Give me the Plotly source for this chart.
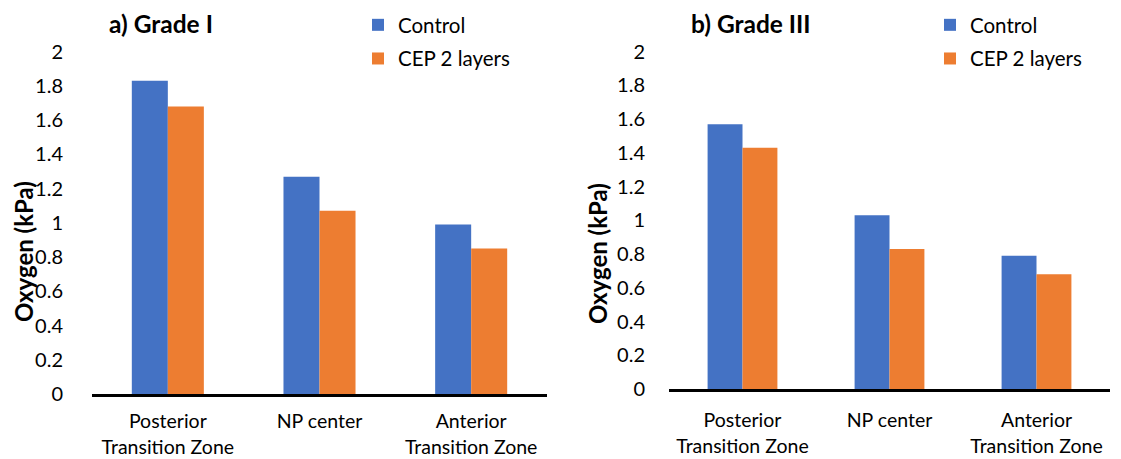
import plotly.graph_objects as go

# Oxygen partial pressure per disc region, two degeneration grades
categories = ["Posterior<br>Transition Zone", "NP center", "Anterior<br>Transition Zone"]
series_names = ["Control", "CEP 2 layers"]

grade1_control = [1.83, 1.27, 0.99]
grade1_cep = [1.68, 1.07, 0.85]

grade3_control = [1.57, 1.03, 0.79]
grade3_cep = [1.43, 0.83, 0.68]

y_ticks = [0, 0.2, 0.4, 0.6, 0.8, 1, 1.2, 1.4, 1.6, 1.8, 2]
y_ticktext = ["0", "0.2", "0.4", "0.6", "0.8", "1", "1.2", "1.4", "1.6", "1.8", "2"]

BLUE = "#4472C4"
ORANGE = "#ED7D31"
FONT = "Lato, 'Open Sans', sans-serif"
W, H = 1121, 459

fig = go.Figure()

panels = [
    ("x", "y", "legend", grade1_control, grade1_cep),
    ("x2", "y2", "legend2", grade3_control, grade3_cep),
]
for xa, ya, leg, ctrl, cep in panels:
    for name, vals, col in zip(series_names, [ctrl, cep], [BLUE, ORANGE]):
        fig.add_trace(go.Bar(
            x=categories, y=vals, name=name, marker_color=col,
            marker_line_width=0, xaxis=xa, yaxis=ya, legend=leg,
            legendgroup=name,
        ))


def px_x(p):
    return p / W


def px_y(p):
    return 1 - p / H


axis_common = dict(showgrid=False, zeroline=False, fixedrange=True, automargin=False)

fig.update_layout(
    width=W, height=H,
    margin=dict(l=0, r=0, t=0, b=0, pad=0, autoexpand=False),
    paper_bgcolor="white", plot_bgcolor="white",
    font=dict(family=FONT, size=20, color="#000000"),
    barmode="group", bargap=0.525, bargroupgap=0,
    xaxis=dict(domain=[px_x(92), px_x(547)], anchor="y", showline=True,
               linecolor="#000000", linewidth=2.5, ticks="",
               ticklabelstandoff=8, tickfont=dict(size=19.5), **axis_common),
    yaxis=dict(domain=[px_y(394), px_y(51.7)], anchor="x", range=[0, 2],
               tickvals=y_ticks, ticktext=y_ticktext, showline=False,
               ticklabelstandoff=28, tickfont=dict(size=20), **axis_common),
    xaxis2=dict(domain=[px_x(669), px_x(1110)], anchor="y2", showline=True,
                linecolor="#000000", linewidth=2.5, ticks="",
                ticklabelstandoff=12, tickfont=dict(size=19.5), **axis_common),
    yaxis2=dict(domain=[px_y(389), px_y(51.7)], anchor="x2", range=[0, 2],
                tickvals=y_ticks, ticktext=y_ticktext, showline=False,
                ticklabelstandoff=23, tickfont=dict(size=20), **axis_common),
    legend=dict(x=px_x(358), y=px_y(5), xanchor="left", yanchor="top",
                xref="container", yref="container",
                font=dict(size=20.5), bgcolor="rgba(0,0,0,0)", tracegroupgap=4),
    legend2=dict(x=px_x(930), y=px_y(5), xanchor="left", yanchor="top",
                 xref="container", yref="container",
                 font=dict(size=20.5), bgcolor="rgba(0,0,0,0)", tracegroupgap=4),
    showlegend=True,
)

# Panel titles
fig.add_annotation(text="<b>a) Grade I</b>", x=px_x(161), y=px_y(23),
                   xref="paper", yref="paper", showarrow=False,
                   font=dict(size=24.5), xanchor="center", yanchor="middle")
fig.add_annotation(text="<b>b) Grade III</b>", x=px_x(751), y=px_y(23),
                   xref="paper", yref="paper", showarrow=False,
                   font=dict(size=24.5), xanchor="center", yanchor="middle")

# Y axis titles
for cx, cy in [(23, 252), (597, 254)]:
    fig.add_annotation(text="<b>Oxygen (kPa)</b>", x=px_x(cx), y=px_y(cy),
                       xref="paper", yref="paper", showarrow=False,
                       textangle=-90, font=dict(size=24),
                       xanchor="center", yanchor="middle")

fig.write_html("out.html")
